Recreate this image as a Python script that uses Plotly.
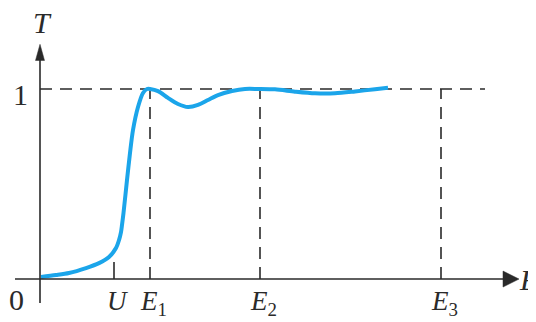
import plotly.graph_objects as go

# Curve data (E in arbitrary units, T transmission)
curve_e = [0.1, 1.6, 2.9, 4.6, 5.9, 6.9, 7.6, 7.9, 8.1, 8.2, 8.35, 8.7, 9.0, 9.3, 9.8,
           10.3, 10.7, 11.0, 11.8, 12.8, 13.8, 14.8, 15.8, 16.8, 17.8, 19.2, 20.5,
           21.8, 23.5, 25.5, 27.5, 29.5, 31.5, 33.5, 34.8]
curve_t = [0.011, 0.021, 0.032, 0.058, 0.084, 0.116, 0.163, 0.205, 0.247, 0.284, 0.347,
           0.521, 0.663, 0.784, 0.905, 0.979, 1.0, 1.0, 0.989, 0.953, 0.921, 0.905,
           0.916, 0.942, 0.968, 0.989, 1.0, 1.0, 0.998, 0.986, 0.977, 0.977, 0.987,
           0.999, 1.006]

# Marked energies
U_val = 7.4
E_vals = [11.0, 22.0, 40.1]
E_labels = ["<i>E</i><sub>1</sub>", "<i>E</i><sub>2</sub>", "<i>E</i><sub>3</sub>"]
T_one = 1.0

ink = "#2a2a2a"
blue = "#1ba5ea"
font = "Liberation Serif"

fig = go.Figure()
fig.add_trace(go.Scatter(x=curve_e, y=curve_t, mode="lines",
                         line=dict(color=blue, width=4, shape="spline", smoothing=0.8),
                         hoverinfo="skip"))

shapes = []
dash = dict(color=ink, width=1.6, dash="12px,8px")
# horizontal dashed line at T=1
shapes.append(dict(type="line", x0=0.0, x1=44.5, y0=T_one, y1=T_one, line=dash, layer="below"))
for e in E_vals:
    shapes.append(dict(type="line", x0=e, x1=e, y0=0, y1=T_one, line=dash, layer="below"))
# U tick
shapes.append(dict(type="line", x0=U_val, x1=U_val, y0=0, y1=0.09,
                   line=dict(color=ink, width=1.6)))
# axes lines
shapes.append(dict(type="line", x0=-2.5, x1=47, y0=0, y1=0, line=dict(color=ink, width=1.6)))
shapes.append(dict(type="line", x0=0, x1=0, y0=-0.126, y1=1.19, line=dict(color=ink, width=1.6)))
# arrowheads
shapes.append(dict(type="path", path="M 46.3,-0.042 L 47.9,0 L 46.3,0.042 Z",
                   fillcolor=ink, line=dict(color=ink, width=0.5)))
shapes.append(dict(type="path", path="M -0.45,1.15 L 0,1.235 L 0.45,1.15 Z",
                   fillcolor=ink, line=dict(color=ink, width=0.5)))

ann = []
def label(x, y, text, size=26, xanchor="center", yanchor="middle"):
    ann.append(dict(x=x, y=y, text=text, showarrow=False, xanchor=xanchor, yanchor=yanchor,
                    font=dict(family=font, size=size, color=ink)))

label(0.2, 1.35, "<i>T</i>", size=30)
label(-2.0, 0.97, "1", size=30)
label(-2.4, -0.11, "0", size=30)
label(U_val + 0.3, -0.115, "<i>U</i>", size=27)
for e, t in zip(E_vals, E_labels):
    label(e + 0.3, -0.125, t, size=27)
label(48.8, 0.0, "<i>E</i>", size=30)

fig.update_layout(
    width=536, height=322,
    margin=dict(l=0, r=0, t=0, b=0),
    paper_bgcolor="white", plot_bgcolor="white",
    showlegend=False,
    xaxis=dict(range=[-3.2, 50.4], visible=False, fixedrange=True),
    yaxis=dict(range=[-0.268, 1.426], visible=False, fixedrange=True),
    shapes=shapes, annotations=ann,
)
fig.write_html("out.html")
